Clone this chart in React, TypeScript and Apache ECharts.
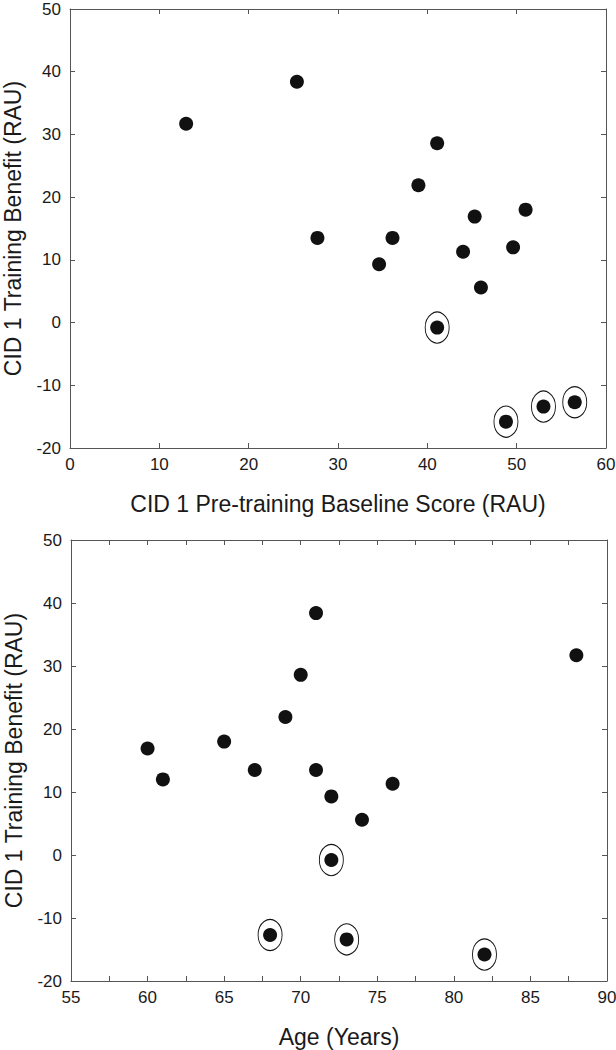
import React, { useEffect, useRef } from "react";
import * as echarts from "echarts";

// Data
const benefit = [31.7, 38.4, 13.5, 9.3, 13.5, 21.9, 28.6, 11.3, 16.9, 5.6, 18.0, 12.0, -0.8, -15.8, -13.4, -12.7];
const baseline = [13.0, 25.4, 27.7, 34.6, 36.1, 39.0, 41.1, 44.0, 45.3, 46.0, 51.0, 49.6, 41.1, 48.8, 53.0, 56.5];
const age = [88, 71, 67, 72, 71, 69, 70, 76, 60, 74, 65, 61, 72, 82, 73, 68];
const circled = [false, false, false, false, false, false, false, false, false, false, false, false, true, true, true, true];

const yTitle = "CID 1 Training Benefit (RAU)";
const xTitleTop = "CID 1 Pre-training Baseline Score (RAU)";
const xTitleBottom = "Age (Years)";

const FONT = "'Liberation Sans', Arial, sans-serif";
const AXIS_COLOR = "#555";
const TEXT_COLOR = "#1a1a1a";

export default function App() {
  const ref = useRef<HTMLDivElement>(null);

  useEffect(() => {
    document.body.style.margin = "0";
    const chart = echarts.init(ref.current!, null, { renderer: "svg" });

    const axisCommon = {
      axisLine: { show: true, onZero: false, lineStyle: { color: AXIS_COLOR, width: 1 } },
      axisTick: { show: true, inside: true, length: 5, lineStyle: { color: AXIS_COLOR } },
      splitLine: { show: false },
    };
    const labelStyle = { color: TEXT_COLOR, fontSize: 17, fontFamily: FONT };
    const nameStyle = { color: TEXT_COLOR, fontSize: 23, fontFamily: FONT };

    const xAxes = [
      {
        type: "value", gridIndex: 0, position: "bottom", min: 0, max: 60, interval: 10,
        ...axisCommon,
        axisLabel: { ...labelStyle, margin: 8 },
        name: xTitleTop, nameLocation: "middle", nameGap: 44, nameTextStyle: nameStyle,
      },
      {
        type: "value", gridIndex: 0, position: "top", min: 0, max: 60, interval: 10,
        ...axisCommon, axisLabel: { show: false },
      },
      {
        type: "value", gridIndex: 1, position: "bottom", min: 55, max: 90, interval: 5,
        ...axisCommon,
        minorTick: { show: true, splitNumber: 2, length: 5, lineStyle: { color: AXIS_COLOR } },
        axisLabel: { ...labelStyle, margin: 8 },
        name: xTitleBottom, nameLocation: "middle", nameGap: 44, nameTextStyle: nameStyle,
      },
      {
        type: "value", gridIndex: 1, position: "top", min: 55, max: 90, interval: 5,
        ...axisCommon,
        minorTick: { show: true, splitNumber: 2, length: 5, lineStyle: { color: AXIS_COLOR } },
        axisLabel: { show: false },
      },
    ];

    const yAxes = [0, 1].flatMap((g) => [
      {
        type: "value", gridIndex: g, position: "left", min: -20, max: 50, interval: 10,
        ...axisCommon,
        axisLabel: { ...labelStyle, lineHeight: 14, margin: 9 },
        name: yTitle, nameLocation: "middle", nameGap: 46, nameTextStyle: nameStyle,
      },
      {
        type: "value", gridIndex: g, position: "right", min: -20, max: 50, interval: 10,
        ...axisCommon, axisLabel: { show: false },
      },
    ]);

    const topPts = baseline.map((x, i) => [x, benefit[i]]);
    const botPts = age.map((x, i) => [x, benefit[i]]);
    const topRing = topPts.filter((_, i) => circled[i]);
    const botRing = botPts.filter((_, i) => circled[i]);

    const dot = { type: "scatter", symbol: "circle", symbolSize: 14, itemStyle: { color: "#111", opacity: 1 }, silent: true };
    const ring = {
      type: "scatter", symbol: "circle", symbolSize: [24, 31],
      itemStyle: { color: "rgba(0,0,0,0)", borderColor: "#111", borderWidth: 1, opacity: 1 }, silent: true,
    };

    chart.setOption({
      animation: false,
      backgroundColor: "#fff",
      grid: [
        { left: 70, top: 9, width: 536, height: 439, containLabel: false, outerBoundsMode: "none" },
        { left: 71, top: 540, width: 536, height: 441, containLabel: false, outerBoundsMode: "none" },
      ],
      xAxis: xAxes,
      yAxis: yAxes,
      series: [
        { ...dot, xAxisIndex: 0, yAxisIndex: 0, data: topPts },
        { ...ring, xAxisIndex: 0, yAxisIndex: 0, data: topRing },
        { ...dot, xAxisIndex: 2, yAxisIndex: 2, data: botPts },
        { ...ring, xAxisIndex: 2, yAxisIndex: 2, data: botRing },
      ],
    });

    return () => chart.dispose();
  }, []);

  return <div ref={ref} style={{ position: "absolute", left: 0, top: 0, width: 616, height: 1050 }} />;
}
